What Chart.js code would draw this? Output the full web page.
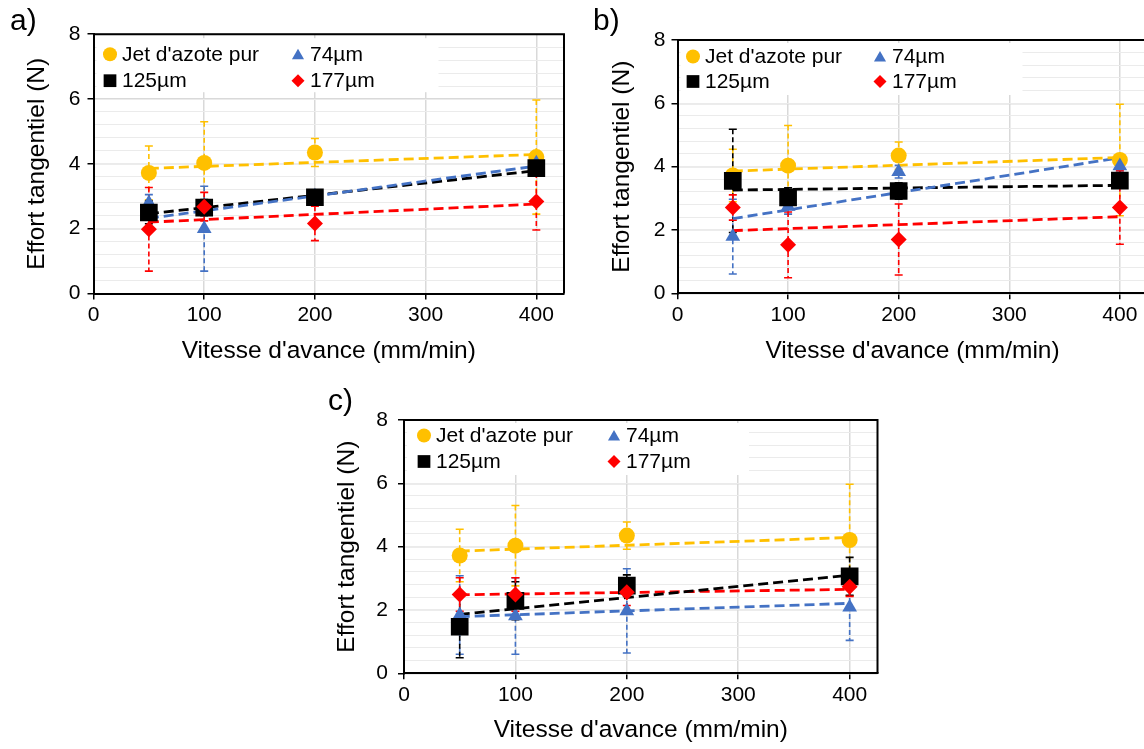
<!DOCTYPE html>
<html><head><meta charset="utf-8">
<script src="https://cdn.jsdelivr.net/npm/chart.js@4.4.0/dist/chart.umd.min.js"></script>
<style>
html,body{margin:0;padding:0;background:#fff;width:1144px;height:749px;overflow:hidden;position:relative;font-family:"Liberation Sans",Arial,sans-serif}
.panel{position:absolute}
.panel canvas{display:block}
.lbl{position:absolute;font-size:30px;line-height:1;color:#000;font-family:"Liberation Sans",Arial,sans-serif}
</style></head><body>
<div class="panel" style="left:0;top:0"><canvas id="ca" width="580" height="370"></canvas></div>
<div class="panel" style="left:580px;top:0"><canvas id="cb" width="580" height="370"></canvas></div>
<div class="panel" style="left:300px;top:380px"><canvas id="cc" width="590" height="369"></canvas></div>
<div class="lbl" style="left:10px;top:5px">a)</div>
<div class="lbl" style="left:593px;top:5px">b)</div>
<div class="lbl" style="left:328px;top:385px">c)</div>
<script>
// ---------- data ----------
const feedRates = [50, 100, 200, 400];          // Vitesse d'avance (mm/min)
const trendX = [50, 400];
const seriesNames = ["Jet d'azote pur", "74µm", "125µm", "177µm"];
const xTitle = "Vitesse d'avance (mm/min)";
const yTitle = "Effort tangentiel (N)";

// Jet d'azote pur (same reference in every panel)
const jetMean = [3.72, 4.03, 4.35, 4.21];
const jetErr = [0.83, 1.27, 0.43, 1.76];
const jetTrend = [3.86, 4.29];

// panel a)
const a74Mean = [2.79, 2.00, 3.00, 4.02];
const a74Err = [0.26, 1.31, 0.15, 0.15];
const a74Trend = [2.32, 3.93];
const a125Mean = [2.50, 2.65, 2.97, 3.87];
const a125Err = [0.35, 0.25, 0.15, 0.15];
const a125Trend = [2.46, 3.79];
const a177Mean = [1.98, 2.68, 2.16, 2.84];
const a177Err = [1.29, 0.44, 0.53, 0.88];
const a177Trend = [2.20, 2.76];

// panel b)
const b74Mean = [1.79, 2.74, 3.84, 4.02];
const b74Err = [1.18, 0.24, 0.20, 0.20];
const b74Trend = [2.36, 4.28];
const b125Mean = [3.55, 3.03, 3.23, 3.56];
const b125Err = [1.63, 0.30, 0.26, 0.20];
const b125Trend = [3.26, 3.41];
const b177Mean = [2.71, 1.53, 1.70, 2.71];
const b177Err = [0.40, 1.04, 1.12, 1.16];
const b177Trend = [1.98, 2.42];

// panel c)
const c74Mean = [1.84, 1.81, 1.97, 2.09];
const c74Err = [1.24, 1.21, 1.33, 1.05];
const c74Trend = [1.79, 2.21];
const c125Mean = [1.47, 2.29, 2.77, 3.06];
const c125Err = [0.98, 0.60, 0.34, 0.60];
const c125Trend = [1.86, 3.10];
const c177Mean = [2.49, 2.49, 2.56, 2.73];
const c177Err = [0.53, 0.53, 0.42, 0.30];
const c177Trend = [2.48, 2.65];

// ---------- styles ----------
const COLORS = ['#FFC000', '#4472C4', '#000000', '#FF0000'];
const STYLES = ['circle', 'triangle', 'rect', 'rectRot'];
const RADII = [8, 8.5, 12.5, 8];
const LEG_RADII = [7, 7, 9, 6.5];
const FONT = "'Liberation Sans', Arial, sans-serif";
Chart.defaults.font.family = FONT;
Chart.defaults.color = '#000';

function pts(xs, ys) { return xs.map((x, i) => ({x: x, y: ys[i]})); }

const panelPlugin = {
  id: 'panelExtras',
  beforeDatasetsDraw(chart, args, opts) {
    const {ctx, chartArea: ca, scales: {x, y}} = chart;
    // frame top/right
    ctx.save();
    ctx.strokeStyle = '#000';
    ctx.lineWidth = 2;
    ctx.beginPath();
    ctx.moveTo(ca.left, ca.top); ctx.lineTo(ca.right, ca.top); ctx.lineTo(ca.right, ca.bottom);
    ctx.stroke();
    ctx.restore();
    // legend
    const L = opts.legend;
    ctx.save();
    ctx.fillStyle = '#fff';
    ctx.fillRect(ca.left + L.boxX, ca.top + L.boxY, L.boxW, L.boxH);
    ctx.font = L.fontSize + 'px ' + FONT;
    ctx.textBaseline = 'middle';
    ctx.textAlign = 'left';
    const order = [[0, 0, 0], [1, 1, 0], [2, 0, 1], [3, 1, 1]];
    order.forEach(([si, col, row]) => {
      const mx = ca.left + L.x0 + col * L.colGap;
      const my = ca.top + L.y0 + row * L.rowGap;
      ctx.fillStyle = COLORS[si];
      ctx.strokeStyle = COLORS[si];
      if (Chart.helpers && Chart.helpers.drawPoint) {
        Chart.helpers.drawPoint(ctx, {pointStyle: STYLES[si], radius: LEG_RADII[si], rotation: 0, borderWidth: 0}, mx, my + (si === 1 ? 1.5 : 0));
      }
      ctx.fillStyle = '#000';
      ctx.fillText(seriesNames[si], mx + L.textDx, my + 1);
    });
    ctx.restore();
    // error bars
    chart.data.datasets.forEach((ds) => {
      if (!ds.errors) return;
      ctx.save();
      ctx.strokeStyle = ds.errColor;
      ctx.lineWidth = 1.6;
      ds.data.forEach((p, i) => {
        const e = ds.errors[i];
        const px = x.getPixelForValue(p.x);
        const pt = y.getPixelForValue(p.y + e);
        const pb = y.getPixelForValue(p.y - e);
        ctx.setLineDash([5, 3]);
        ctx.beginPath(); ctx.moveTo(px, pt); ctx.lineTo(px, pb); ctx.stroke();
        ctx.setLineDash([]);
        ctx.beginPath();
        ctx.moveTo(px - 4, pt); ctx.lineTo(px + 4, pt);
        ctx.moveTo(px - 4, pb); ctx.lineTo(px + 4, pb);
        ctx.stroke();
      });
      ctx.restore();
    });
  }
};

function makePanel(id, series, g) {
  const datasets = [];
  // trendlines (under markers)
  series.forEach((s, i) => {
    datasets.push({
      data: pts(trendX, s.trend), showLine: true, pointRadius: 0,
      borderColor: COLORS[i], borderWidth: 2.8, borderDash: [10, 5],
      order: 20 + i
    });
  });
  // markers
  series.forEach((s, i) => {
    datasets.push({
      label: seriesNames[i], data: pts(feedRates, s.mean), errors: s.err, errColor: COLORS[i],
      showLine: false, pointStyle: STYLES[i], pointRadius: RADII[i],
      backgroundColor: COLORS[i], borderColor: COLORS[i], borderWidth: 0,
      order: 10 - i
    });
  });
  const W = g.W, H = g.H;
  new Chart(document.getElementById(id), {
    type: 'scatter',
    data: {datasets},
    options: {
      responsive: false, animation: false, events: [],
      layout: {padding: {left: 0, top: g.T, right: W - g.R, bottom: 0}},
      plugins: {legend: {display: false}, tooltip: {enabled: false},
        panelExtras: {legend: g.legend}},
      scales: {
        x: {
          type: 'linear', min: 0, max: 425,
          ticks: {stepSize: 100, includeBounds: false, font: {size: 21}, padding: 3, color: '#000'},
          grid: {color: '#d9d9d9', lineWidth: 1.5, tickColor: '#000', tickLength: 6, tickWidth: 1.5},
          border: {color: '#000', width: 2},
          title: {display: true, text: xTitle, font: {size: 24.5}, padding: {top: 0, bottom: g.xTitlePad}, color: '#000'},
          afterFit(s) { s.height = H - g.B; }
        },
        y: {
          type: 'linear', min: 0, max: 8, position: 'left',
          ticks: {stepSize: 2, font: {size: 21}, padding: g.yTickPad, color: '#000'},
          grid: {color: '#d9d9d9', lineWidth: 1.5, tickColor: '#000', tickLength: 6, tickWidth: 1.5},
          border: {color: '#000', width: 2},
          title: {display: true, text: yTitle, font: {size: 24.5}, padding: {top: g.yTitleX - 14.7, bottom: 0}, color: '#000'},
          afterFit(s) { s.width = g.L; }
        },
        yMinor: {
          type: 'linear', min: 0, max: 8, position: 'left', z: -1,
          ticks: {display: false, stepSize: 0.4},
          grid: {color: '#ebebeb', lineWidth: 1, drawTicks: false},
          border: {display: false},
          afterFit(s) { s.width = 0; }
        }
      }
    },
    plugins: [panelPlugin]
  });
}

const legA = {boxX: 3, boxY: 4, boxW: 342, boxH: 54, x0: 16.5, y0: 20, colGap: 188, rowGap: 26.5, textDx: 12, fontSize: 21};
const legB = {boxX: 3, boxY: 3, boxW: 342, boxH: 52, x0: 15.5, y0: 16.5, colGap: 187, rowGap: 25, textDx: 12, fontSize: 21};
const legC = {boxX: 3, boxY: 3, boxW: 342, boxH: 52, x0: 20, y0: 15.5, colGap: 190, rowGap: 26, textDx: 12, fontSize: 21};

makePanel('ca', [
  {mean: jetMean, err: jetErr, trend: jetTrend},
  {mean: a74Mean, err: a74Err, trend: a74Trend},
  {mean: a125Mean, err: a125Err, trend: a125Trend},
  {mean: a177Mean, err: a177Err, trend: a177Trend}
], {W: 580, H: 370, L: 93.5, T: 34.2, R: 564, B: 293.5, yTitleX: 37, xTitlePad: 4, yTickPad: 7, legend: legA});

makePanel('cb', [
  {mean: jetMean, err: jetErr, trend: jetTrend},
  {mean: b74Mean, err: b74Err, trend: b74Trend},
  {mean: b125Mean, err: b125Err, trend: b125Trend},
  {mean: b177Mean, err: b177Err, trend: b177Trend}
], {W: 580, H: 370, L: 97.5, T: 40, R: 569.5, B: 293.3, yTitleX: 42, xTitlePad: 4, yTickPad: 6, legend: legB});

makePanel('cc', [
  {mean: jetMean, err: jetErr, trend: jetTrend},
  {mean: c74Mean, err: c74Err, trend: c74Trend},
  {mean: c125Mean, err: c125Err, trend: c125Trend},
  {mean: c177Mean, err: c177Err, trend: c177Trend}
], {W: 590, H: 369, L: 104, T: 40, R: 580, B: 293.3, yTitleX: 47, xTitlePad: 4, yTickPad: 10, legend: legC});
</script>
</body></html>
